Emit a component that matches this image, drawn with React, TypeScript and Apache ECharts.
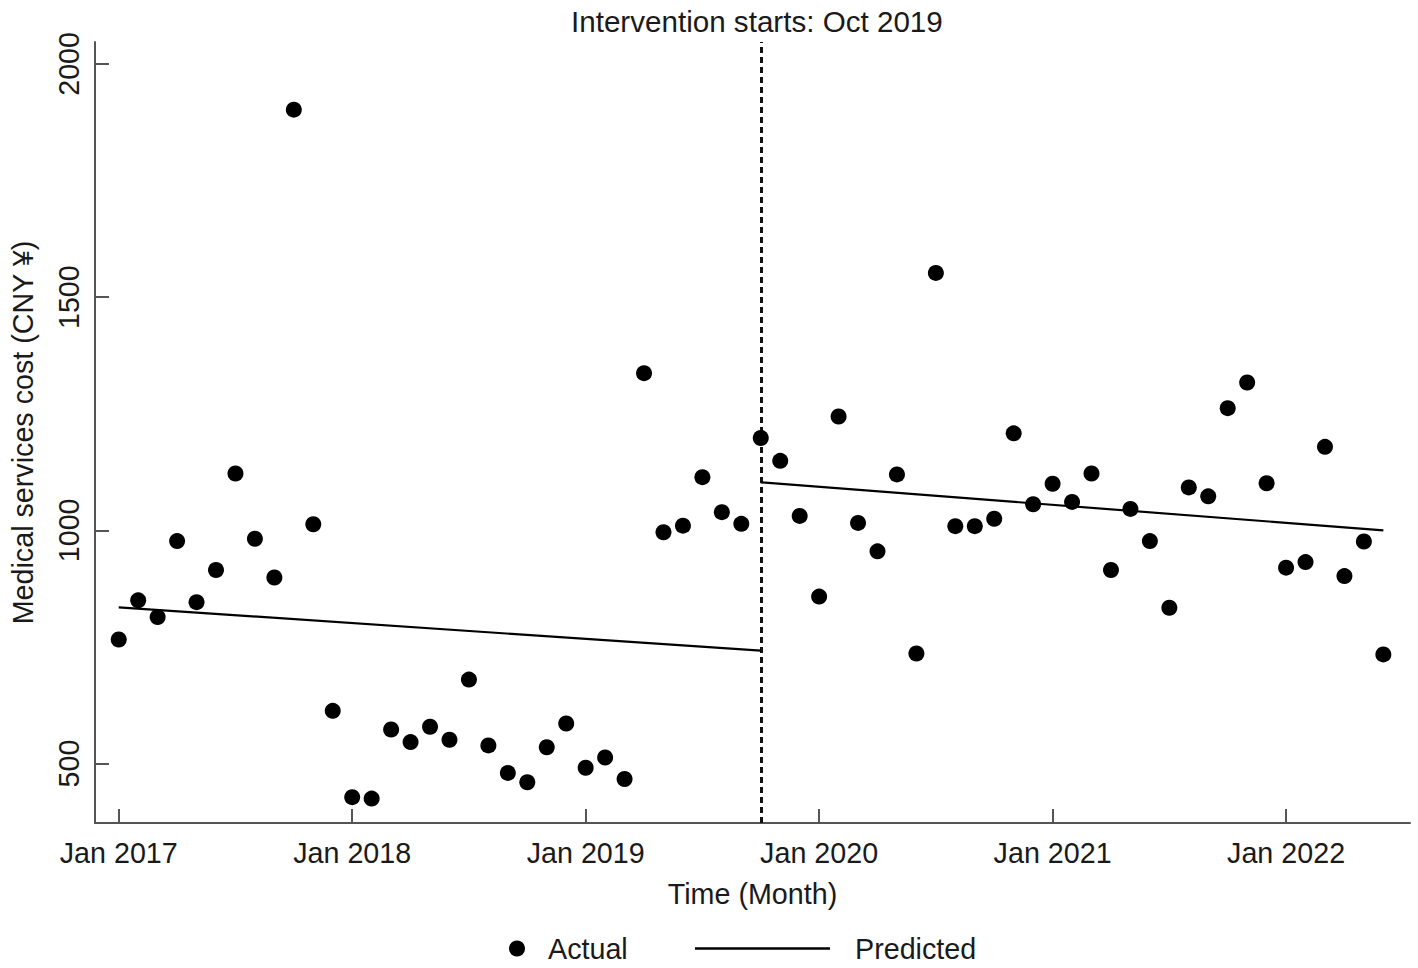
import React, { useEffect, useRef } from "react";
import * as echarts from "echarts";

// Month index 0 = Jan 2017
const actualValues = [
  766, 850, 814, 977, 846, 915, 1122, 982, 899, 1902, 1013, 613,
  428, 425, 573, 546, 579, 551, 680, 539, 480, 460, 535, 586,
  491, 513, 467, 1337, 996, 1010, 1114, 1039, 1014, 1198, 1149, 1031,
  858, 1244, 1016, 955, 1120, 736, 1552, 1009, 1009, 1025, 1208, 1056,
  1100, 1061, 1122, 915, 1046, 977, 834, 1092, 1073, 1262, 1317, 1101,
  920, 932, 1179, 902, 976, 734,
];
const predictedPre = [
  [0, 835],
  [33, 742],
];
const predictedPost = [
  [33, 1103],
  [65, 1000],
];
const interventionMonth = 33;
const xTickMonths = [0, 12, 24, 36, 48, 60];
const xTickLabels = ["Jan 2017", "Jan 2018", "Jan 2019", "Jan 2020", "Jan 2021", "Jan 2022"];
const yTicks = [500, 1000, 1500, 2000];

const FONT = "Liberation Sans, Arial, sans-serif";
const TEXT = "#1a1a1a";
const AXIS = "#555555";
const FS = 28.7;

export default function App() {
  const ref = useRef<HTMLDivElement>(null);
  useEffect(() => {
    document.body.style.margin = "0";
    if (!ref.current) return;
    const chart = echarts.init(ref.current, undefined, { renderer: "svg" });
    const scatterData = actualValues.map((v, i) => [i, v]);
    chart.setOption({
      animation: false,
      backgroundColor: "#ffffff",
      textStyle: { fontFamily: FONT },
      title: {
        text: "Intervention starts: Oct 2019",
        left: 566,
        top: 1,
        textStyle: { fontFamily: FONT, fontSize: 29.6, fontWeight: "normal", color: TEXT },
      },
      grid: { left: 94, right: 8, top: 42, bottom: 145, containLabel: false },
      xAxis: {
        type: "value",
        min: -1.22,
        max: 66.37,
        name: "Time (Month)",
        nameLocation: "middle",
        nameGap: 56,
        nameTextStyle: { fontFamily: FONT, fontSize: FS, color: TEXT },
        splitLine: { show: false },
        axisLine: { show: true, onZero: false, lineStyle: { color: AXIS, width: 2 } },
        axisTick: {
          show: true,
          inside: true,
          length: 14,
          customValues: xTickMonths,
          lineStyle: { color: AXIS, width: 2 },
        },
        axisLabel: {
          customValues: xTickMonths,
          margin: 15,
          fontFamily: FONT,
          fontSize: FS,
          color: TEXT,
          formatter: (v: number) => {
            const idx = xTickMonths.indexOf(Math.round(v));
            return idx >= 0 ? xTickLabels[idx] : "";
          },
        },
      },
      yAxis: {
        type: "value",
        min: 372.6,
        max: 2047,
        name: "Medical services cost (CNY ¥)",
        nameLocation: "middle",
        nameGap: 58,
        nameRotate: 90,
        nameTextStyle: { fontFamily: FONT, fontSize: FS, color: TEXT },
        splitLine: { show: false },
        axisLine: { show: true, onZero: false, lineStyle: { color: AXIS, width: 2 } },
        axisTick: {
          show: true,
          inside: true,
          length: 14,
          customValues: yTicks,
          lineStyle: { color: AXIS, width: 2 },
        },
        axisLabel: {
          customValues: yTicks,
          rotate: 90,
          margin: 12,
          fontFamily: FONT,
          fontSize: FS,
          color: TEXT,
          formatter: (v: number) => String(Math.round(v)),
        },
      },
      legend: [
        {
          data: [{ name: "Actual", icon: "circle" }],
          left: 509,
          top: 934,
          padding: 0,
          itemWidth: 16,
          itemHeight: 16,
          textStyle: { fontFamily: FONT, fontSize: FS, color: TEXT, padding: [0, 0, 0, 18] },
        },
        {
          data: [{ name: "Predicted", icon: "rect" }],
          left: 695,
          top: 934,
          padding: 0,
          itemWidth: 135,
          itemHeight: 2.5,
          textStyle: { fontFamily: FONT, fontSize: FS, color: TEXT, padding: [0, 0, 0, 20] },
        },
      ],
      series: [
        {
          name: "Actual",
          type: "scatter",
          data: scatterData,
          symbol: "circle",
          symbolSize: 16,
          itemStyle: { color: "#000000", opacity: 1 },
          z: 3,
          markLine: {
            silent: true,
            symbol: "none",
            label: { show: false },
            lineStyle: { color: "#111111", width: 3, type: [6, 4], opacity: 1 },
            data: [{ xAxis: interventionMonth }],
            z: 2,
          },
        },
        {
          name: "Predicted",
          type: "line",
          data: predictedPre,
          showSymbol: false,
          symbol: "none",
          lineStyle: { color: "#000000", width: 2.2 },
          itemStyle: { color: "#000000" },
          z: 2,
        },
        {
          name: "Predicted",
          type: "line",
          data: predictedPost,
          showSymbol: false,
          symbol: "none",
          lineStyle: { color: "#000000", width: 2.2 },
          itemStyle: { color: "#000000" },
          z: 2,
        },
      ],
    });
    return () => chart.dispose();
  }, []);
  return <div ref={ref} style={{ width: 1418, height: 968 }} />;
}
